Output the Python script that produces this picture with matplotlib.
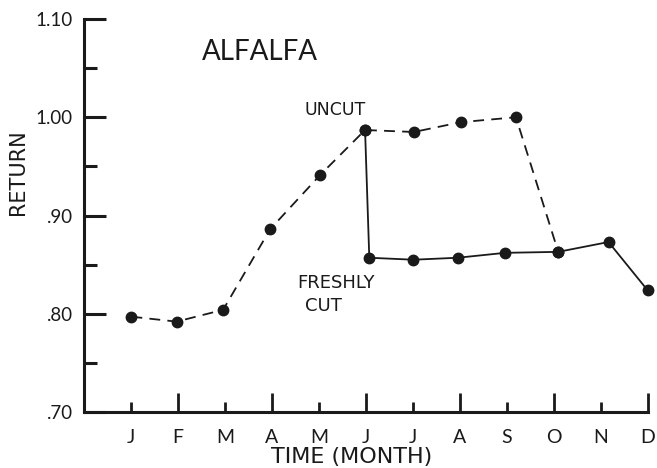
import matplotlib
matplotlib.use("Agg")
import matplotlib.pyplot as plt

# Monthly return for alfalfa, uncut stand vs. freshly cut stand
months = ["J", "F", "M", "A", "M", "J", "J", "A", "S", "O", "N", "D"]
month_pos = [1, 2, 3, 4, 5, 6, 7, 8, 9, 10, 11, 12]

uncut_x = [1.01, 1.97, 2.96, 3.96, 5.02, 5.98, 7.02, 8.02, 9.19, 10.09]
uncut_y = [0.797, 0.792, 0.804, 0.886, 0.941, 0.987, 0.985, 0.995, 1.000, 0.863]

cut_x = [5.98, 6.07, 7.01, 7.95, 8.96, 10.09, 11.16, 11.99]
cut_y = [0.987, 0.857, 0.855, 0.857, 0.862, 0.863, 0.873, 0.824]

y_ticks = [0.70, 0.80, 0.90, 1.00, 1.10]
y_tick_labels = [".70", ".80", ".90", "1.00", "1.10"]
y_minor = [0.75, 0.85, 0.95, 1.05]

FONT = "Lato"
WIDE = "DejaVu Sans"
INK = "#1a1a1a"

fig = plt.figure(figsize=(6.57, 4.68), dpi=100)
ax = fig.add_axes([84 / 657, 1 - 412 / 468, (648 - 84) / 657, (412 - 19) / 468])

ax.plot(uncut_x, uncut_y, color=INK, lw=1.3, ls=(0, (6, 4)),
        marker="o", ms=7.5, mfc=INK, mec=INK, zorder=3, clip_on=False)
ax.plot(cut_x, cut_y, color=INK, lw=1.3, ls="-",
        marker="o", ms=7.5, mfc=INK, mec=INK, zorder=3, clip_on=False)

ax.set_xlim(0, 12)
ax.set_ylim(0.70, 1.10)

for side in ("top", "right"):
    ax.spines[side].set_visible(False)
for side in ("left", "bottom"):
    ax.spines[side].set_linewidth(2.2)
    ax.spines[side].set_color(INK)

ax.set_yticks(y_ticks)
ax.set_yticklabels(y_tick_labels, fontfamily=FONT, fontsize=13.5, color=INK)
ax.set_yticks(y_minor, minor=True)
ax.tick_params(axis="y", which="major", direction="in", length=16, width=2.2,
               color=INK, pad=8)
ax.tick_params(axis="y", which="minor", direction="in", length=9, width=2.2,
               color=INK)

# month ticks alternate short and long
ax.set_xticks(month_pos)
ax.set_xticklabels(months, fontfamily=FONT, fontsize=14, color=INK)
ax.tick_params(axis="x", which="major", direction="in", length=14, width=2.0,
               color=INK, pad=12)
for i, t in enumerate(ax.xaxis.get_major_ticks()):
    if i % 2 == 0:
        t.tick1line.set_markersize(7)

ax.text(2.5, 1.066, "ALFALFA", fontfamily=FONT, fontsize=20, color=INK,
        ha="left", va="center")
ax.text(5.35, 1.007, "UNCUT", fontfamily=WIDE, fontsize=12.5, color=INK,
        ha="center", va="center")
ax.text(5.37, 0.831, "FRESHLY", fontfamily=WIDE, fontsize=13, color=INK,
        ha="center", va="center")
ax.text(5.1, 0.808, "CUT", fontfamily=WIDE, fontsize=13, color=INK,
        ha="center", va="center")

fig.text(18 / 657, 1 - 172 / 468, "RETURN", fontfamily=WIDE, fontsize=15,
         color=INK, rotation=90, ha="center", va="center")
fig.text(352 / 657, 1 - 457 / 468, "TIME (MONTH)", fontfamily=WIDE,
         fontsize=16, color=INK, ha="center", va="center")

fig.savefig("out.png", dpi=100, facecolor="white")
